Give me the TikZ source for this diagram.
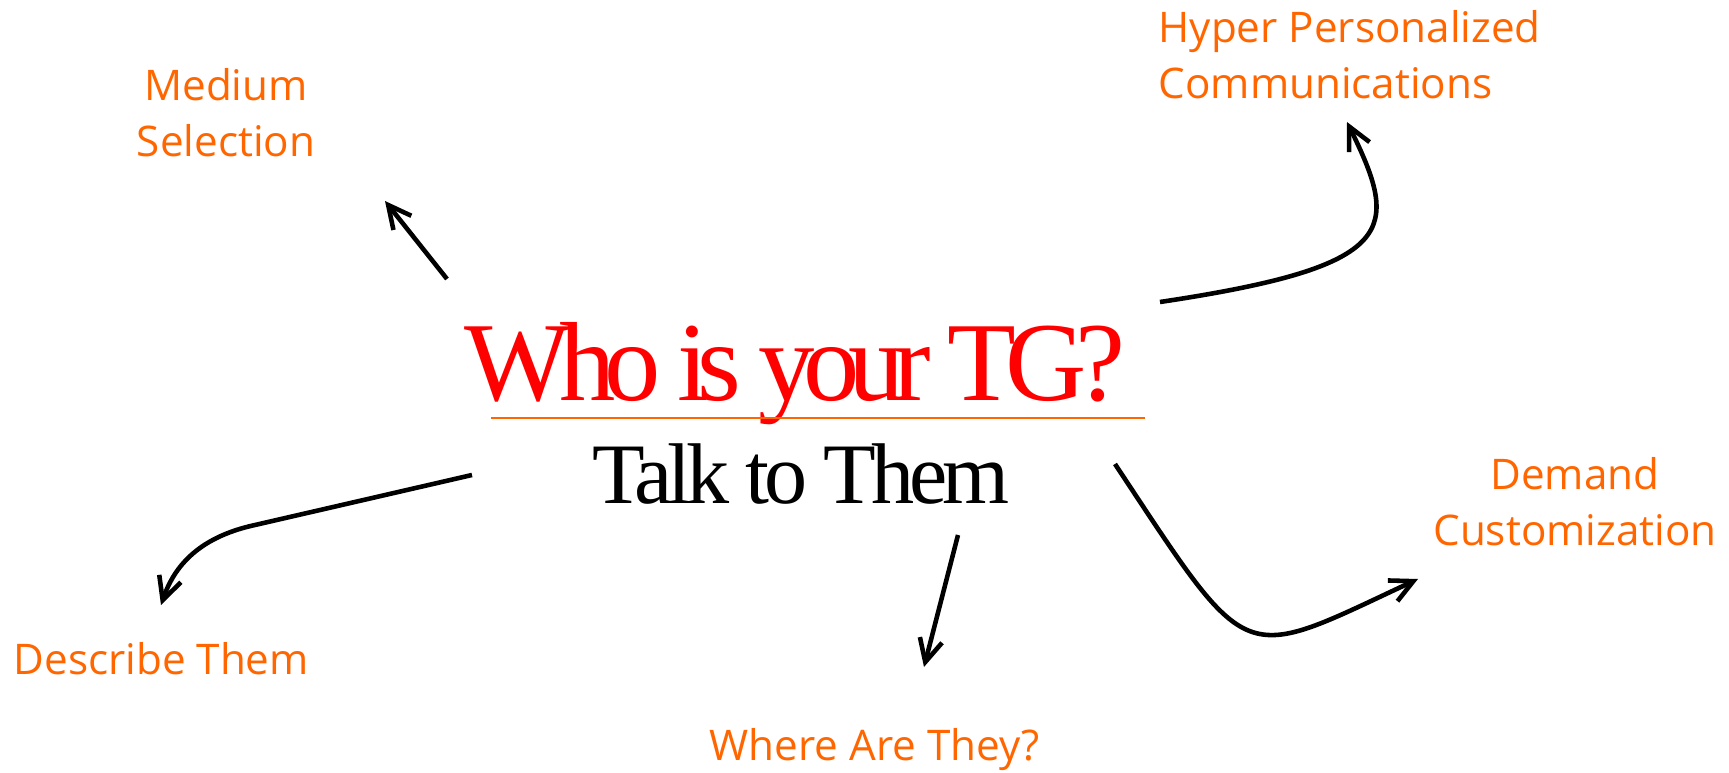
\documentclass[tikz,border=0pt]{standalone}
\usepackage{fontspec}
\setmainfont{Liberation Serif}
\newfontfamily\labelfont{Open Sans}
\newfontfamily\headfont[LetterSpace=-10]{Liberation Serif}
\newfontfamily\subfont[LetterSpace=-6]{Liberation Serif}
\usetikzlibrary{arrows.meta}

\definecolor{tgred}{RGB}{255,0,0}
\definecolor{tgorange}{RGB}{255,102,0}

\begin{document}
\begin{tikzpicture}[
    x=0.01cm, y=-0.01cm,
    topic/.style={font=\labelfont\fontsize{12}{16}\selectfont, text=tgorange,
                  inner sep=0pt, align=center},
    arrow/.style={-{Straight Barb[length=6.5pt,width=6.5pt]}, line width=1.3pt}
]
\useasboundingbox (0,0) rectangle (1729,773);

% Title and subtitle
\node[anchor=base, inner sep=0pt, text=tgred,
      font=\headfont\fontsize{32}{36}\selectfont] (tg) at (795,400) {Who is your TG?};
\draw[tgorange, line width=0.6pt] (491,418) -- (1145,418);
\node[anchor=base, inner sep=0pt,
      font=\subfont\fontsize{24.5}{28}\selectfont] (talk) at (801,504) {Talk to Them};

% Surrounding topics (base = last line)
\node[topic, anchor=base] (medium) at (226,157) {Medium\\Selection};
\node[topic, anchor=base west, align=left] (hyper) at (1158,99) {Hyper Personalized\\Communications};
\node[topic, anchor=base] (demand) at (1575,546) {Demand\\Customization};
\node[topic, anchor=base west] (describe) at (13,674) {Describe Them};
\node[topic, anchor=base west] (where) at (709,760) {Where Are They?};

% Arrow ends
\coordinate (medTail) at (447,279);  \coordinate (medTip) at (385,201);
\coordinate (hypTail) at (1160,302); \coordinate (hypTip) at (1347,122);
\coordinate (demTail) at (1115,464); \coordinate (demTip) at (1418,579);
\coordinate (desTail) at (472,475);  \coordinate (desTip) at (161,605);
\coordinate (whrTail) at (958,535);  \coordinate (whrTip) at (924,667);

\draw[arrow] (medTail) -- (medTip);
\draw[arrow] (hypTail) .. controls (1400,266) and (1400,230) .. (hypTip);
\draw[arrow] (demTail) .. controls (1252,671) and (1238,663) .. (demTip);
\draw[arrow] (desTail) -- (255,525) .. controls (195,538) and (173,570) .. (desTip);
\draw[arrow] (whrTail) -- (whrTip);

\end{tikzpicture}
\end{document}
